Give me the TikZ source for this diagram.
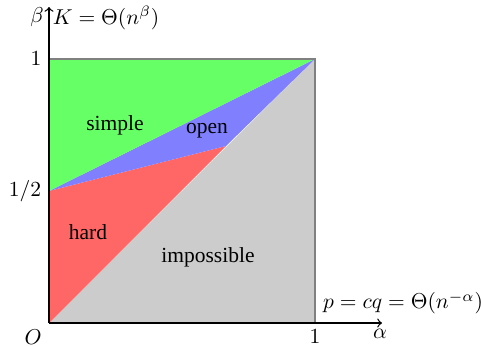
\documentclass[tikz,border=0pt]{standalone}
\usepackage{fontspec}
\setmainfont{Liberation Serif}
\begin{document}
\begin{tikzpicture}[x=0.465pt,y=-0.465pt,
  region/.style={font=\fontsize{10}{12}\selectfont},
  lbl/.style={inner sep=1pt,font=\fontsize{9.6}{11}\selectfont},
  edge/.style={draw=black!50,line width=0.5pt}]
\useasboundingbox (0,0) rectangle (481,346);
% key points
\coordinate (O) at (49,323);
\coordinate (Y1) at (49,59);
\coordinate (Yh) at (49,191);
\coordinate (X1) at (315,323);
\coordinate (D) at (315,59);
\coordinate (M) at (226,146);
\coordinate (Xend) at (382,323);
\coordinate (Yend) at (49,7);
% regions
\fill[gray!40] (O) -- (D) -- (X1) -- cycle;
\fill[red!60] (O) -- (Yh) -- (M) -- cycle;
\fill[blue!50] (Yh) -- (D) -- (M) -- cycle;
\fill[green!60] (Yh) -- (Y1) -- (D) -- cycle;
\draw[edge] (Y1) -- (D) -- (X1);
% axes
\draw[->,line width=0.6pt] (O) -- (Xend);
\draw[->,line width=0.6pt] (O) -- (Yend);
% labels
\node[lbl] (lO) at (33,337) {$O$};
\node[lbl] (lx1) at (315,337) {$1$};
\node[lbl] (lal) at (380,334) {$\alpha$};
\node[lbl] (lp) at (403,303) {$p=cq=\Theta(n^{-\alpha})$};
\node[lbl] (lbe) at (37,17) {$\beta$};
\node[lbl] (lK) at (106,18) {$K=\Theta(n^{\beta})$};
\node[lbl] (ly1) at (36,59) {$1$};
\node[lbl] (lyh) at (25,191) {$1/2$};
\node[region] (simple) at (115,125) {simple};
\node[region] (open) at (207,131) {open};
\node[region] (hard) at (88,232) {hard};
\node[region] (imp) at (208,257) {impossible};
\end{tikzpicture}
\end{document}
